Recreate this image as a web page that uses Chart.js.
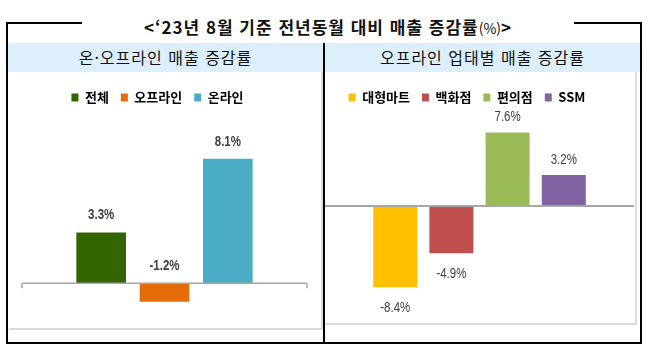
<!DOCTYPE html>
<html lang="ko">
<head>
<meta charset="utf-8">
<script src="https://cdn.jsdelivr.net/npm/chart.js@4"></script>
<style>
  body { margin: 0; width: 657px; height: 354px; background: #fff; position: relative; overflow: hidden; font-family: 'Noto Sans CJK KR', sans-serif; }
  .abs { position: absolute; }
  #frame { left: 6px; top: 22px; width: 636px; height: 322px; border: 2px solid #000; box-sizing: border-box; }
  #title { left: 82px; top: 14px; width: 492px; height: 26px; line-height: 26px; background: #fff; text-align: center; font-size: 17px; font-weight: bold; color: #111; letter-spacing: 1px; }
  #title small { font-size: 14px; font-weight: normal; letter-spacing: 0; }
  .head { top: 43px; height: 29px; line-height: 29px; background: #DDEFFB; text-align: center; font-size: 16px; color: #111; letter-spacing: 1px; }
  #divider { left: 323px; top: 43px; width: 2px; height: 300px; background: #000; }
  .faint { border-right: 2px solid #DCDCDC; border-bottom: 2px solid #DCDCDC; box-sizing: border-box; }
  .wrap { top: 72px; height: 270px; }
</style>
</head>
<body>
<div id="frame" class="abs"></div>
<div id="title" class="abs">&lt;‘23년 8월 기준 전년동월 대비 매출 증감률<small>(%)</small>&gt;</div>
<div class="abs head" style="left:8px;width:315px;">온·오프라인 매출 증감률</div>
<div class="abs head" style="left:325px;width:315px;">오프라인 업태별 매출 증감률</div>
<div class="abs faint" style="left:9px;top:72px;width:314px;height:258px;"></div>
<div class="abs faint" style="left:325px;top:72px;width:312px;height:253px;"></div>
<div id="divider" class="abs"></div>
<div class="abs wrap" style="left:8px;width:316px;"><canvas id="left"></canvas></div>
<div class="abs wrap" style="left:300px;width:340px;"><canvas id="right"></canvas></div>
<script>
const channelNames = ['전체', '오프라인', '온라인'];
const channelValues = [3.3, -1.2, 8.1];
const channelColors = ['#336600', '#E46C0A', '#4BACC6'];

const storeNames = ['대형마트', '백화점', '편의점', 'SSM'];
const storeValues = [-8.4, -4.9, 7.6, 3.2];
const storeColors = ['#FFC000', '#C0504D', '#9BBB59', '#8064A2'];

const zeroLine = {
  id: 'zeroLine',
  afterDatasetsDraw(chart, args, opts) {
    const { ctx, chartArea } = chart;
    const y = chart.scales.y.getPixelForValue(0);
    ctx.save();
    ctx.strokeStyle = opts.color;
    ctx.lineWidth = opts.width;
    ctx.beginPath();
    ctx.moveTo(chartArea.left, y);
    ctx.lineTo(chartArea.right, y);
    if (opts.tick) {
      ctx.moveTo(chartArea.left, y);
      ctx.lineTo(chartArea.left, y + opts.tick);
      ctx.moveTo(chartArea.right, y);
      ctx.lineTo(chartArea.right, y + opts.tick);
    }
    ctx.stroke();
    ctx.restore();
  }
};

// value labels in a narrow face (Arial Narrow look: squeeze Liberation Sans)
const valueLabels = {
  id: 'valueLabels',
  afterDatasetsDraw(chart, args, opts) {
    const { ctx } = chart;
    const meta = chart.getDatasetMeta(0);
    const points = chart.data.datasets[0].data;
    meta.data.forEach((bar, i) => {
      const v = points[i].y;
      let y;
      if (opts.aboveZero || v >= 0) y = Math.min(bar.y, bar.base) - opts.gapUp;
      else y = bar.y + opts.gapDown;
      ctx.save();
      ctx.font = opts.font;
      ctx.fillStyle = opts.color;
      ctx.textAlign = 'center';
      ctx.textBaseline = 'middle';
      ctx.translate(bar.x, y);
      ctx.scale(0.82, 1);
      ctx.fillText(v.toFixed(1) + '%', 0, 0);
      ctx.restore();
    });
  }
};

function makeChart(id, names, values, colors, o) {
  return new Chart(document.getElementById(id), {
    type: 'bar',
    data: {
      datasets: [{
        data: values.map((v, i) => ({ x: i, y: v })),
        backgroundColor: colors,
        borderWidth: 0,
        barPercentage: 0.98,
        categoryPercentage: 0.8
      }]
    },
    options: {
      responsive: true,
      maintainAspectRatio: false,
      animation: false,
      layout: { padding: { top: 7, right: o.padRight, bottom: o.padBottom, left: 0 } },
      scales: {
        x: {
          type: 'linear', display: false, offset: false,
          min: -1.25, max: names.length - 1 + 1.25,
          ticks: { stepSize: 1, includeBounds: false }
        },
        y: {
          min: o.yMin, max: o.yMax,
          grid: { display: false },
          border: { display: false },
          ticks: { display: false },
          afterFit: s => { s.width = o.axisWidth; }
        }
      },
      plugins: {
        tooltip: { enabled: false },
        legend: {
          position: 'top',
          labels: {
            boxWidth: 7, boxHeight: 8, padding: 12,
            color: '#595959',
            font: { family: "'Noto Sans CJK KR', sans-serif", size: 13, weight: 'bold' },
            generateLabels: () => names.map((n, i) => ({
              text: n, fillStyle: colors[i], strokeStyle: colors[i], lineWidth: 0, hidden: false, index: i
            }))
          }
        },
        zeroLine: o.zero,
        valueLabels: o.labels
      }
    },
    plugins: [zeroLine, valueLabels]
  });
}

makeChart('left', channelNames, channelValues, channelColors, {
  yMin: -2.9, yMax: 11, axisWidth: 14, padRight: 17, padBottom: 14,
  zero: { color: '#A6A6A6', width: 1.5, tick: 5 },
  labels: { aboveZero: true, gapUp: 17, gapDown: 21, color: '#404040',
            font: "bold 14px 'Liberation Sans', Arial, sans-serif" }
});

makeChart('right', storeNames, storeValues, storeColors, {
  yMin: -12.1, yMax: 9.5, axisWidth: 25, padRight: 6, padBottom: 19,
  zero: { color: '#A6A6A6', width: 2, tick: 0 },
  labels: { aboveZero: false, gapUp: 15, gapDown: 21, color: '#404040',
            font: "14px 'Liberation Sans', Arial, sans-serif" }
});
</script>
</body>
</html>
